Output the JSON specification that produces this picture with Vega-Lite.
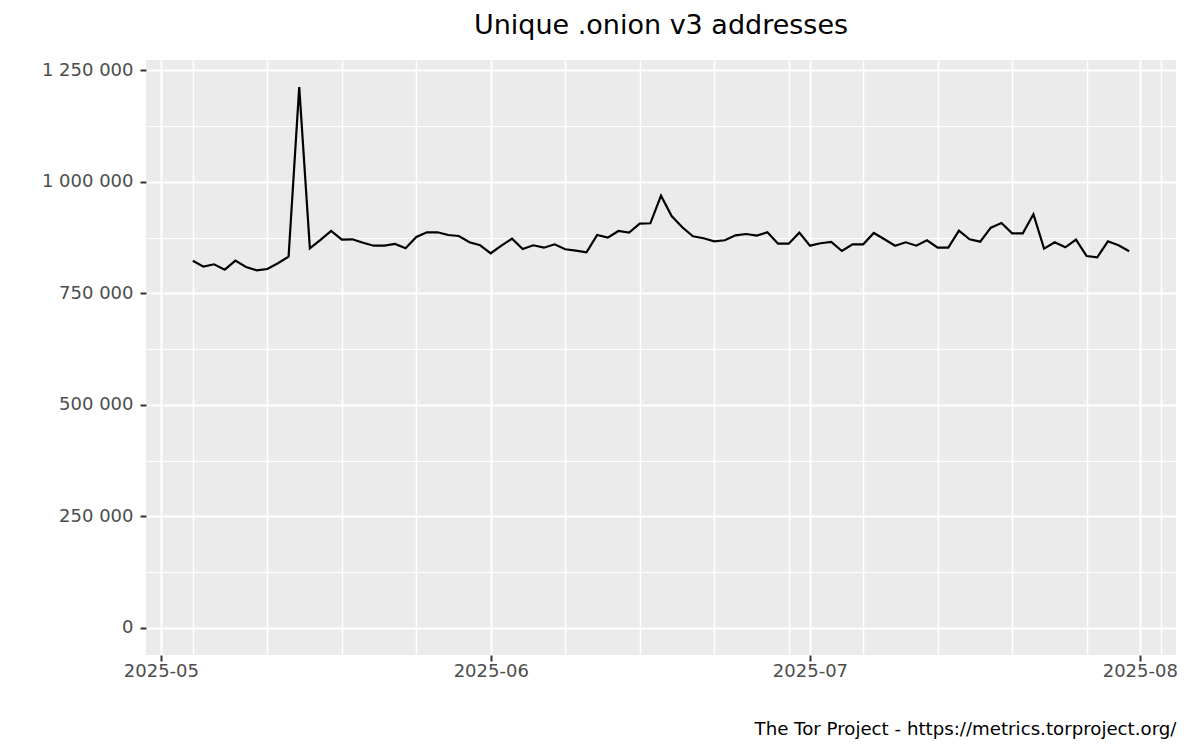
{
  "$schema": "https://vega.github.io/schema/vega-lite/v6.json",
  "autosize": {"type": "none"},
  "width": 1030,
  "height": 595,
  "padding": {"left": 146, "top": 60, "right": 24, "bottom": 95},
  "background": "white",
  "title": {
    "text": "Unique .onion v3 addresses",
    "anchor": "middle",
    "font": "DejaVu Sans",
    "fontSize": 27,
    "fontWeight": "normal",
    "color": "black",
    "baseline": "alphabetic",
    "offset": 27,
    "dy": 28
  },
  "config": {
    "view": {"fill": "#EBEBEB", "stroke": null},
    "axis": {
      "domain": false,
      "gridColor": "white",
      "tickColor": "#333333",
      "tickWidth": 2,
      "tickSize": 6,
      "labelFont": "DejaVu Sans",
      "labelFontSize": 18,
      "labelColor": "#4D4D4D",
      "titleFont": "DejaVu Sans"
    }
  },
  "data": {
    "values": [
      {"date": "2025-05-04", "addresses": 823500},
      {"date": "2025-05-05", "addresses": 810000},
      {"date": "2025-05-06", "addresses": 815400},
      {"date": "2025-05-07", "addresses": 803400},
      {"date": "2025-05-08", "addresses": 823500},
      {"date": "2025-05-09", "addresses": 809400},
      {"date": "2025-05-10", "addresses": 802000},
      {"date": "2025-05-11", "addresses": 804900},
      {"date": "2025-05-12", "addresses": 817600},
      {"date": "2025-05-13", "addresses": 832500},
      {"date": "2025-05-14", "addresses": 1212800},
      {"date": "2025-05-15", "addresses": 851000},
      {"date": "2025-05-16", "addresses": 870000},
      {"date": "2025-05-17", "addresses": 890100},
      {"date": "2025-05-18", "addresses": 870600},
      {"date": "2025-05-19", "addresses": 871400},
      {"date": "2025-05-20", "addresses": 863800},
      {"date": "2025-05-21", "addresses": 857100},
      {"date": "2025-05-22", "addresses": 857100},
      {"date": "2025-05-23", "addresses": 860900},
      {"date": "2025-05-24", "addresses": 851300},
      {"date": "2025-05-25", "addresses": 876600},
      {"date": "2025-05-26", "addresses": 887100},
      {"date": "2025-05-27", "addresses": 887100},
      {"date": "2025-05-28", "addresses": 881100},
      {"date": "2025-05-29", "addresses": 878900},
      {"date": "2025-05-30", "addresses": 864700},
      {"date": "2025-05-31", "addresses": 858000},
      {"date": "2025-06-01", "addresses": 840100},
      {"date": "2025-06-02", "addresses": 857100},
      {"date": "2025-06-03", "addresses": 872800},
      {"date": "2025-06-04", "addresses": 849700},
      {"date": "2025-06-05", "addresses": 858000},
      {"date": "2025-06-06", "addresses": 852600},
      {"date": "2025-06-07", "addresses": 860200},
      {"date": "2025-06-08", "addresses": 849000},
      {"date": "2025-06-09", "addresses": 845900},
      {"date": "2025-06-10", "addresses": 842300},
      {"date": "2025-06-11", "addresses": 881100},
      {"date": "2025-06-12", "addresses": 875100},
      {"date": "2025-06-13", "addresses": 890100},
      {"date": "2025-06-14", "addresses": 886300},
      {"date": "2025-06-15", "addresses": 906500},
      {"date": "2025-06-16", "addresses": 907300},
      {"date": "2025-06-17", "addresses": 969200},
      {"date": "2025-06-18", "addresses": 923700},
      {"date": "2025-06-19", "addresses": 898400},
      {"date": "2025-06-20", "addresses": 878200},
      {"date": "2025-06-21", "addresses": 873700},
      {"date": "2025-06-22", "addresses": 867000},
      {"date": "2025-06-23", "addresses": 869200},
      {"date": "2025-06-24", "addresses": 880400},
      {"date": "2025-06-25", "addresses": 883300},
      {"date": "2025-06-26", "addresses": 879600},
      {"date": "2025-06-27", "addresses": 887100},
      {"date": "2025-06-28", "addresses": 861600},
      {"date": "2025-06-29", "addresses": 861600},
      {"date": "2025-06-30", "addresses": 886300},
      {"date": "2025-07-01", "addresses": 857100},
      {"date": "2025-07-02", "addresses": 862500},
      {"date": "2025-07-03", "addresses": 865400},
      {"date": "2025-07-04", "addresses": 845200},
      {"date": "2025-07-05", "addresses": 860200},
      {"date": "2025-07-06", "addresses": 860200},
      {"date": "2025-07-07", "addresses": 885600},
      {"date": "2025-07-08", "addresses": 871400},
      {"date": "2025-07-09", "addresses": 857100},
      {"date": "2025-07-10", "addresses": 864700},
      {"date": "2025-07-11", "addresses": 857100},
      {"date": "2025-07-12", "addresses": 869200},
      {"date": "2025-07-13", "addresses": 852600},
      {"date": "2025-07-14", "addresses": 852600},
      {"date": "2025-07-15", "addresses": 890800},
      {"date": "2025-07-16", "addresses": 871400},
      {"date": "2025-07-17", "addresses": 866100},
      {"date": "2025-07-18", "addresses": 897500},
      {"date": "2025-07-19", "addresses": 908000},
      {"date": "2025-07-20", "addresses": 884900},
      {"date": "2025-07-21", "addresses": 884900},
      {"date": "2025-07-22", "addresses": 927500},
      {"date": "2025-07-23", "addresses": 850400},
      {"date": "2025-07-24", "addresses": 864700},
      {"date": "2025-07-25", "addresses": 853500},
      {"date": "2025-07-26", "addresses": 870600},
      {"date": "2025-07-27", "addresses": 834000},
      {"date": "2025-07-28", "addresses": 831100},
      {"date": "2025-07-29", "addresses": 867000},
      {"date": "2025-07-30", "addresses": 858000},
      {"date": "2025-07-31", "addresses": 844500}
    ]
  },
  "mark": {"type": "line", "color": "black", "strokeWidth": 2.2, "clip": true},
  "encoding": {
    "x": {
      "field": "date",
      "type": "temporal",
      "scale": {
        "type": "utc",
        "domain": [
          {"year": 2025, "month": 4, "date": 29, "hours": 14, "minutes": 24, "utc": true},
          {"year": 2025, "month": 8, "date": 4, "hours": 9, "minutes": 36, "utc": true}
        ],
        "nice": false
      },
      "axis": {
        "title": "The Tor Project - https://metrics.torproject.org/",
        "titleAnchor": "end",
        "titleFontSize": 18.2,
        "titleFontWeight": "normal",
        "titleColor": "black",
        "titlePadding": 40,
        "labelPadding": 1,
        "values": [
          {"year": 2025, "month": 5, "date": 1, "utc": true},
          {"year": 2025, "month": 5, "date": 4, "utc": true},
          {"year": 2025, "month": 5, "date": 11, "utc": true},
          {"year": 2025, "month": 5, "date": 18, "utc": true},
          {"year": 2025, "month": 5, "date": 25, "utc": true},
          {"year": 2025, "month": 6, "date": 1, "utc": true},
          {"year": 2025, "month": 6, "date": 8, "utc": true},
          {"year": 2025, "month": 6, "date": 15, "utc": true},
          {"year": 2025, "month": 6, "date": 22, "utc": true},
          {"year": 2025, "month": 6, "date": 29, "utc": true},
          {"year": 2025, "month": 7, "date": 1, "utc": true},
          {"year": 2025, "month": 7, "date": 6, "utc": true},
          {"year": 2025, "month": 7, "date": 13, "utc": true},
          {"year": 2025, "month": 7, "date": 20, "utc": true},
          {"year": 2025, "month": 7, "date": 27, "utc": true},
          {"year": 2025, "month": 8, "date": 1, "utc": true},
          {"year": 2025, "month": 8, "date": 3, "utc": true}
        ],
        "labelExpr": "utcdate(datum.value) == 1 ? utcFormat(datum.value, '%Y-%m') : ''",
        "labelFlush": false,
        "labelOverlap": false,
        "gridWidth": {"condition": {"test": "utcdate(datum.value) == 1", "value": 2}, "value": 1.5},
        "tickOpacity": {"condition": {"test": "utcdate(datum.value) == 1", "value": 1}, "value": 0}
      }
    },
    "y": {
      "field": "addresses",
      "type": "quantitative",
      "scale": {"domain": [-60640, 1273440], "nice": false, "zero": false},
      "axis": {
        "title": null,
        "labelPadding": 7,
        "values": [0, 125000, 250000, 375000, 500000, 625000, 750000, 875000, 1000000, 1125000, 1250000],
        "labelExpr": "datum.value % 250000 == 0 ? replace(format(datum.value, ','), regexp(',', 'g'), ' ') : ''",
        "labelOverlap": false,
        "gridWidth": {"condition": {"test": "datum.value % 250000 == 0", "value": 2}, "value": 1.1},
        "tickOpacity": {"condition": {"test": "datum.value % 250000 == 0", "value": 1}, "value": 0}
      }
    }
  }
}
